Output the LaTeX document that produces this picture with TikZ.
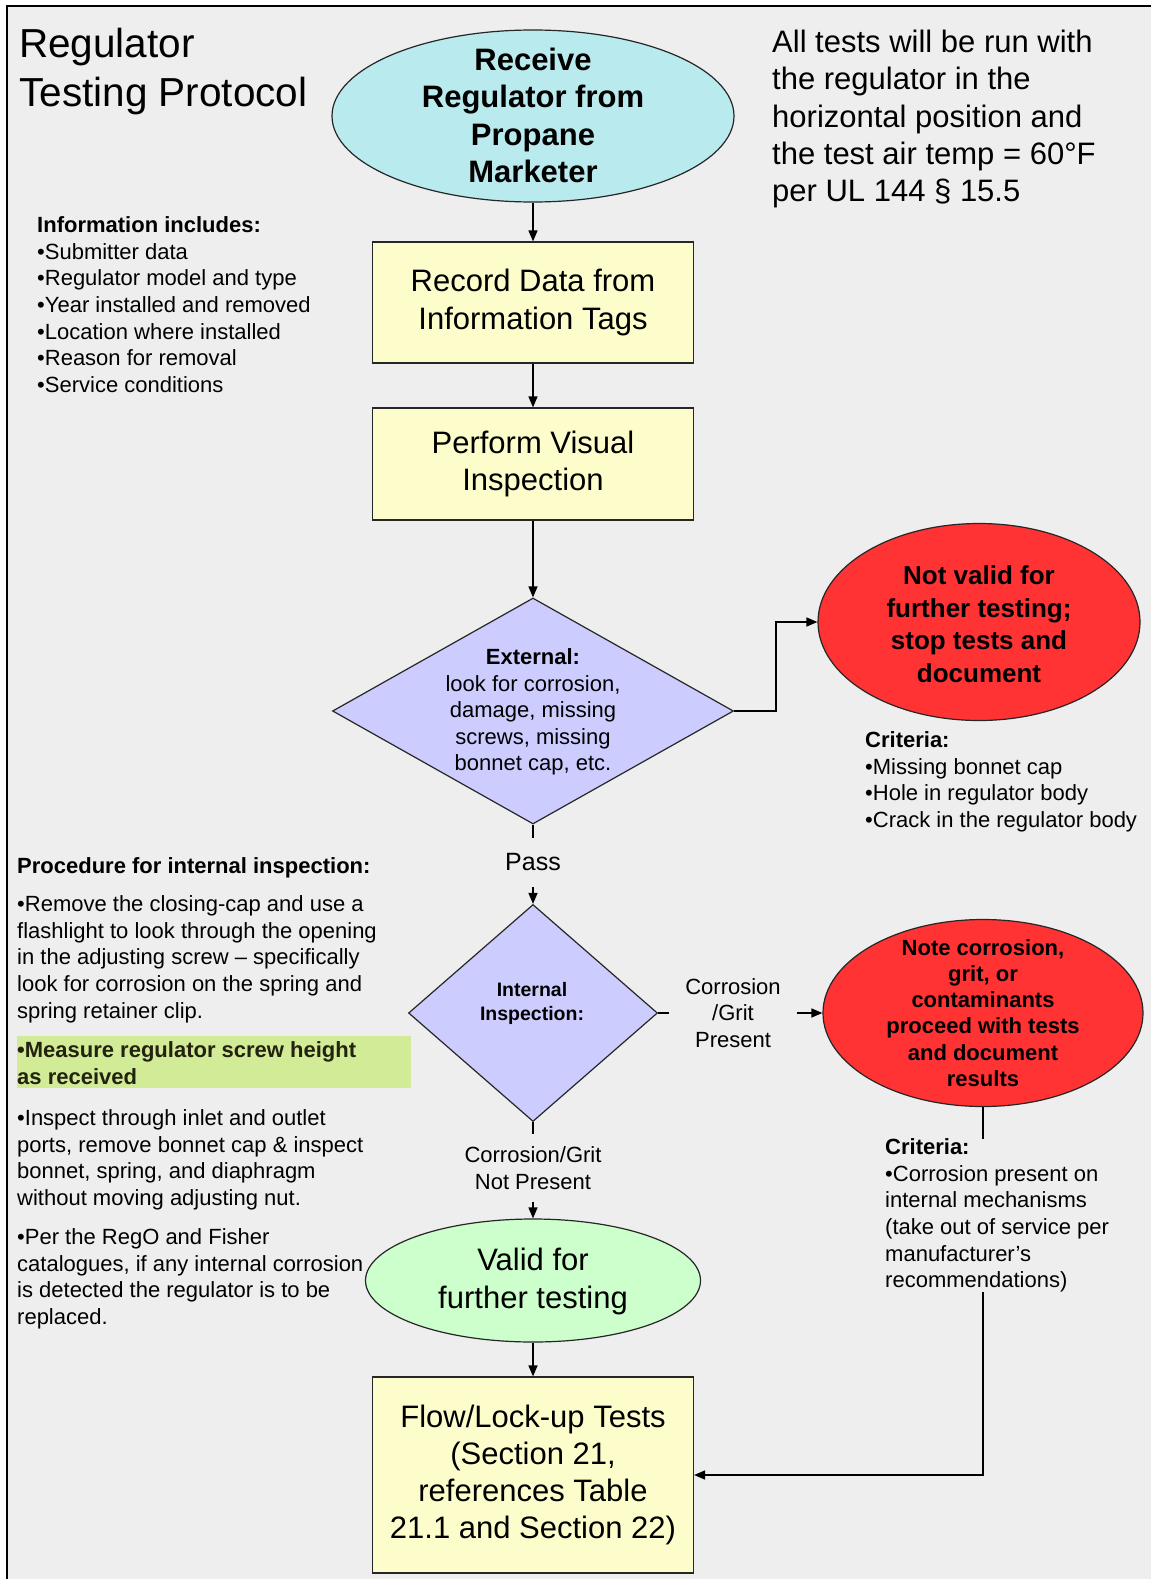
\documentclass[tikz,border=0pt]{standalone}
\usepackage{fontspec}
\setmainfont{Liberation Sans}
\usetikzlibrary{shapes.geometric,arrows.meta}
\definecolor{bgc}{HTML}{EEEEEE}
\definecolor{cyanf}{HTML}{B9EBEE}
\definecolor{yellowf}{HTML}{FDFDCB}
\definecolor{lavf}{HTML}{CCCCFF}
\definecolor{redf}{HTML}{FF3333}
\definecolor{greenf}{HTML}{CCFFCC}
\definecolor{hilite}{HTML}{D2EB96}
\definecolor{hitext}{HTML}{22220F}
\tikzset{
  conn/.style={line width=1.5pt, draw=black},
  arr/.style={conn, -{Triangle[length=11pt,width=9pt]}},
  shp/.style={draw=black!85, line width=1.2pt, inner sep=0pt},
  boxy/.style={shp, rectangle, fill=yellowf, align=center, minimum width=321pt, font=\fontsize{31}{37.3}\selectfont},
  ell/.style={shp, ellipse},
  dia/.style={shp, diamond, fill=lavf},
  ctext/.style={align=center, inner sep=0pt},
  ltext/.style={align=left, inner sep=0pt, anchor=north west},
  small/.style={font=\fontsize{22}{26.6}\selectfont},
  big/.style={font=\fontsize{31}{37.3}\selectfont}
}
\begin{document}
\begin{tikzpicture}[x=1pt,y=-1pt]
\useasboundingbox (0,0) rectangle (1151,1579);
\fill[white] (0,0) rectangle (1151,1579);
\fill[bgc] (7,6) rectangle (1151,1579);
\draw[line width=2.5pt] (7,1579) -- (7,6) -- (1151,6);

% title and notes
\node[ltext, font=\fontsize{40.5}{49}\selectfont] (title) at (19,27.5) {Regulator\\Testing Protocol};
\node[ltext, big] (cond) at (772,30) {All tests will be run with\\the regulator in the\\horizontal position and\\the test air temp = 60°F\\per UL 144 § 15.5};
\node[ltext, small] (info) at (37,216.5) {\textbf{Information includes:}\\•Submitter data\\•Regulator model and type\\•Year installed and removed\\•Location where installed\\•Reason for removal\\•Service conditions};

% main flow
\node[ell, fill=cyanf, minimum width=402pt, minimum height=172pt] (recv) at (533,116) {};
\node[ctext, font=\bfseries\fontsize{31}{37.2}\selectfont] (recvt) at (533,115.5) {Receive\\Regulator from\\Propane\\Marketer};

\node[boxy, minimum height=121pt] (rec) at (533,302.5) {Record Data from\\Information Tags};
\node[boxy, minimum height=112pt] (vis) at (533,464) {Perform Visual\\Inspection};

\node[dia, minimum width=401pt, minimum height=226pt] (ext) at (533,711) {};
\node[ctext, small] (extt) at (533,712) {\textbf{External:}\\look for corrosion,\\damage, missing\\screws, missing\\bonnet cap, etc.};

\node[ell, fill=redf, minimum width=322pt, minimum height=197pt] (stop) at (979,622) {};
\node[ctext, font=\bfseries\fontsize{26}{32.5}\selectfont] (stopt) at (979,624) {Not valid for\\further testing;\\stop tests and\\document};
\node[ltext, small] (crit1) at (865,731.5) {\textbf{Criteria:}\\•Missing bonnet cap\\•Hole in regulator body\\•Crack in the regulator body};

\node[ctext, font=\fontsize{25}{30}\selectfont, inner ysep=16pt] (pass) at (533,862.5) {Pass};

\node[dia, minimum width=249pt, minimum height=217pt] (int) at (533,1013) {};
\node[ctext, font=\bfseries\fontsize{19.5}{24}\selectfont] (intt) at (532,1003) {Internal\\Inspection:};

\node[ctext, small, inner xsep=16pt] (cgp) at (733,1013) {Corrosion\\/Grit\\Present};

\node[ell, fill=redf, minimum width=320pt, minimum height=187pt] (note) at (983,1013) {};
\node[ctext, font=\bfseries\fontsize{22}{26.2}\selectfont] (notet) at (983,1013) {Note corrosion,\\grit, or\\contaminants\\proceed with tests\\and document\\results};
\node[ltext, small] (crit2) at (885,1138.5) {\textbf{Criteria:}\\•Corrosion present on\\internal mechanisms\\(take out of service per\\manufacturer’s\\recommendations)};

\node[ctext, small, inner ysep=12pt] (cgnp) at (533,1168) {Corrosion/Grit\\Not Present};

\node[ell, fill=greenf, minimum width=335pt, minimum height=123pt] (valid) at (533,1280.5) {};
\node[ctext, big] (validt) at (533,1281.5) {Valid for\\further testing};

\node[boxy, minimum height=196pt] (flow) at (533,1475) {Flow/Lock-up Tests\\(Section 21,\\references Table\\21.1 and Section 22)};

% left procedure text
\node[ltext, small] (proch) at (17,857) {\textbf{Procedure for internal inspection:}};
\node[ltext, small] (p1) at (17,895.5) {•Remove the closing-cap and use a\\flashlight to look through the opening\\in the adjusting screw – specifically\\look for corrosion on the spring and\\spring retainer clip.};
\fill[hilite] (17,1036) rectangle (411,1088);
\node[ltext, small, text=hitext] (p2) at (17,1041.5) {\textbf{•Measure regulator screw height}\\\textbf{as received}};
\node[ltext, small] (p3) at (17,1109.5) {•Inspect through inlet and outlet\\ports, remove bonnet cap \& inspect\\bonnet, spring, and diaphragm\\without moving adjusting nut.};
\node[ltext, small] (p4) at (17,1228.5) {•Per the RegO and Fisher\\catalogues, if any internal corrosion\\is detected the regulator is to be\\replaced.};

% connectors
\draw[arr] (recv.south) -- (rec.north);
\draw[arr] (rec.south) -- (vis.north);
\draw[arr] (vis.south) -- (ext.north);
\draw[arr] (ext.east) -- ++(42,0) |- (stop.west);
\draw[conn] (ext.south) -- (pass.north);
\draw[arr] (pass.south) -- (int.north);
\draw[conn] (int.east) -- (cgp.west);
\draw[arr] (cgp.east) -- (note.west);
\draw[conn] (int.south) -- (cgnp.north);
\draw[arr] (cgnp.south) -- (valid.north);
\draw[arr] (valid.south) -- (flow.north);
\draw[conn] (note.south) -- (note.south |- crit2.north);
\draw[arr] (note.south |- crit2.south) |- (flow.east);
\end{tikzpicture}
\end{document}
